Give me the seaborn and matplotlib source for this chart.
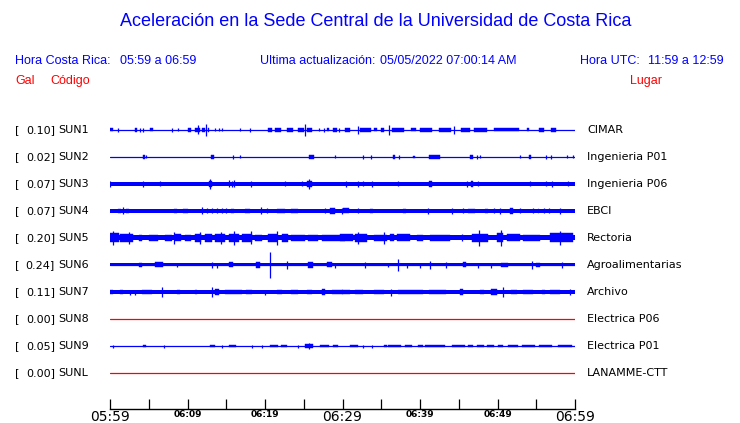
import matplotlib
matplotlib.use("Agg")
import matplotlib.pyplot as plt
import matplotlib.transforms as mtransforms
import seaborn as sns

# ------------------------------------------------------
# Data
# ------------------------------------------------------
STATIONS = ["SUN1", "SUN2", "SUN3", "SUN4", "SUN5", "SUN6", "SUN7", "SUN8", "SUN9", "SUNL"]
PLACES = ["CIMAR", "Ingenieria P01", "Ingenieria P06", "EBCI", "Rectoria",
          "Agroalimentarias", "Archivo", "Electrica P06", "Electrica P01", "LANAMME-CTT"]
PEAK_GAL = [0.10, 0.02, 0.07, 0.07, 0.20, 0.24, 0.11, 0.00, 0.05, 0.00]

# background noise level of each trace (relative amplitude)
NOISE = [0.0, 0.0, 1.9, 1.9, 2.5, 1.5, 1.6, 0.0, 0.0, 0.0]

# bursts: (start minute, end minute, relative amplitude), minute 0 = 05:59
SUN1_BURSTS = [(0.0, 0.4, 1.5), (1.0, 1.0, 2), (3.2, 3.5, 2), (3.9, 3.9, 2), (4.3, 4.3, 2),
               (5.2, 5.6, 1.5), (8.0, 8.0, 2), (8.8, 8.8, 1.5), (10.0, 10.4, 2), (11.0, 11.6, 2.3),
               (11.3, 11.3, 4.5), (11.9, 12.2, 2), (12.4, 12.4, 6), (12.6, 12.8, 2), (13.5, 13.5, 1.5),
               (14.0, 14.0, 1.5), (14.5, 14.5, 1.5), (16.8, 16.8, 1.5), (18.1, 18.1, 2), (20.4, 20.9, 2),
               (21.3, 22.1, 2), (22.9, 23.6, 2), (24.3, 25.0, 2.3), (25.2, 25.2, 6), (25.4, 26.0, 2),
               (27.0, 27.0, 1.5), (27.6, 27.6, 2), (28.0, 28.2, 1.5), (28.8, 29.3, 2), (29.6, 29.6, 2),
               (30.3, 31.0, 1.7), (32.0, 32.0, 4), (32.3, 33.7, 1.7), (34.0, 34.4, 1.5), (35.0, 35.3, 2),
               (36.0, 36.0, 5), (36.4, 37.9, 1.8), (38.9, 39.5, 1.5), (40.0, 41.6, 1.7), (42.4, 44.0, 1.7),
               (44.4, 44.4, 4), (45.3, 46.4, 1.7), (47.0, 48.7, 1.7), (49.5, 52.8, 1.5), (53.8, 54.1, 1.5),
               (55.3, 56.0, 2), (56.9, 57.6, 1.7)]
SUN2_BURSTS = [(4.3, 4.5, 1.8), (4.7, 4.7, 1.5), (13.0, 13.4, 1.8), (15.9, 15.9, 2), (16.8, 16.8, 1.5),
               (25.7, 26.3, 1.8), (29.0, 29.0, 1.5), (32.7, 32.7, 2), (33.7, 33.7, 2), (36.5, 36.8, 1.8),
               (37.3, 37.3, 2), (39.1, 39.3, 1.2), (41.1, 42.6, 1.8), (46.4, 46.9, 1.8), (47.3, 47.3, 2),
               (47.7, 47.7, 1.5), (52.9, 52.9, 1.5), (54.1, 54.3, 1.8), (56.3, 56.3, 2), (56.9, 56.9, 2),
               (59.0, 59.0, 1.5), (59.8, 59.8, 1.5)]
SUN3_BURSTS = [(0.0, 0.0, 3), (4.3, 4.3, 3), (6.5, 6.5, 2.5), (12.8, 13.2, 3), (12.9, 12.9, 5),
               (15.4, 15.4, 3.5), (15.7, 15.7, 3), (16.0, 16.0, 3.5), (18.2, 18.2, 3), (22.6, 22.6, 2.5),
               (24.8, 24.8, 2.5), (25.4, 26.0, 3), (25.7, 25.7, 5), (30.5, 30.5, 3), (32.0, 32.0, 3),
               (32.7, 32.7, 2.5), (33.8, 33.8, 3), (37.2, 37.2, 2.5), (41.2, 41.6, 2.6), (46.1, 46.1, 3),
               (46.6, 46.9, 2.6), (47.5, 47.5, 2.5), (54.2, 54.2, 2.5), (56.3, 56.3, 2.5), (57.0, 57.0, 3),
               (59.1, 59.1, 2.5)]
SUN4_BURSTS = [(1.0, 1.4, 2.4), (1.7, 1.7, 3.5), (2.0, 2.4, 2.4), (8.2, 8.6, 2.4), (9.4, 10.0, 2.4),
               (11.9, 11.9, 3.5), (12.5, 12.5, 2.5), (13.2, 13.2, 2.5), (13.8, 13.8, 2.5), (14.4, 14.4, 2.5),
               (15.0, 15.0, 2.5), (15.6, 16.0, 2.4), (17.4, 18.0, 2.4), (19.5, 19.5, 3.5), (20.3, 20.3, 2.5),
               (21.6, 22.6, 2.3), (23.4, 24.3, 2.2), (27.7, 27.7, 2.5), (28.4, 29.0, 2.6), (29.9, 29.9, 3),
               (30.0, 30.9, 2.5), (32.0, 32.0, 2.5), (33.6, 33.9, 2.4), (37.8, 38.2, 2.4), (41.0, 41.0, 3),
               (44.1, 44.1, 3), (45.6, 45.6, 2.5), (46.2, 47.1, 2.4), (48.4, 48.8, 2.4), (49.6, 49.6, 2.5),
               (50.3, 50.3, 3), (51.6, 52.0, 2.6), (52.9, 52.9, 2.5), (54.6, 54.6, 2.5), (55.2, 55.4, 2.4),
               (56.0, 56.0, 2.5), (56.6, 56.6, 2.5), (58.0, 58.0, 3)]
SUN5_BURSTS = [(0.0, 1.1, 4.5), (0.4, 0.4, 7), (1.3, 3.0, 3.8), (2.5, 2.5, 6), (3.7, 4.1, 3.0),
               (5.0, 6.2, 3.0), (7.1, 8.0, 3.0), (8.2, 8.2, 6), (8.4, 9.2, 3.5), (9.7, 10.5, 3.2),
               (11.0, 11.8, 3.8), (11.6, 11.6, 6), (12.3, 13.1, 3.8), (13.5, 14.8, 3.8), (14.3, 14.3, 6),
               (15.3, 16.6, 3.8), (16.0, 16.0, 7), (17.0, 18.3, 3.8), (18.2, 18.2, 6.5), (18.7, 19.6, 3.0),
               (20.4, 21.5, 4.0), (21.5, 21.5, 7), (22.2, 23.0, 3.8), (23.4, 25.2, 3.0), (25.6, 26.9, 3.2),
               (27.3, 30.3, 3.0), (29.7, 31.4, 3.5), (31.6, 33.1, 3.8), (32.0, 32.0, 6), (34.0, 35.7, 3.2),
               (35.3, 35.3, 6), (36.1, 36.6, 3.5), (37.0, 38.7, 3.5), (39.6, 40.4, 3.0), (41.3, 43.9, 3.0),
               (45.4, 45.4, 3.5), (46.7, 48.8, 4.0), (47.6, 47.6, 8), (49.9, 50.7, 4.5), (50.4, 50.4, 8),
               (51.2, 52.9, 3.5), (53.3, 55.5, 3.0), (56.8, 59.8, 4.5), (58.0, 58.0, 7)]
SUN6_BURSTS = [(3.7, 4.1, 1.8), (5.8, 6.9, 2.5), (8.6, 8.6, 2), (13.1, 13.1, 3), (13.8, 13.8, 2.5),
               (15.3, 15.9, 2.5), (18.9, 19.4, 3.0), (20.7, 20.7, 13), (22.8, 22.8, 3.5), (25.6, 26.2, 2.8),
               (28.0, 28.6, 2.5), (29.0, 29.0, 2.5), (32.9, 32.9, 3), (35.9, 35.9, 2), (37.2, 37.2, 6),
               (38.3, 38.3, 2.5), (40.0, 40.0, 2.5), (41.3, 41.3, 3.5), (43.4, 43.4, 3), (45.6, 45.9, 2.5),
               (47.5, 47.5, 2.5), (49.2, 49.2, 2.5), (50.5, 51.4, 2.2), (54.5, 54.5, 3.5), (55.0, 55.5, 2.0),
               (58.3, 58.3, 3)]
SUN7_BURSTS = [(0.0, 0.4, 1.9), (1.3, 1.7, 2.1), (2.6, 2.6, 2.5), (3.2, 3.2, 2.5), (4.1, 5.4, 2.1),
               (6.7, 6.7, 5), (8.6, 9.0, 2.1), (11.0, 11.2, 2.3), (13.1, 13.1, 5.5), (13.6, 14.0, 2.6),
               (14.8, 17.0, 2.1), (17.6, 18.3, 2.1), (20.0, 20.0, 2.5), (21.5, 22.2, 2.3), (23.4, 24.3, 2.1),
               (25.4, 26.0, 2.1), (27.3, 27.7, 2.8), (28.6, 30.1, 2.1), (29.9, 31.0, 2.3), (31.6, 32.7, 2.1),
               (34.0, 35.3, 2.1), (36.3, 36.3, 3.5), (37.2, 40.4, 2.3), (41.1, 43.4, 2.1), (45.2, 45.6, 2.6),
               (47.7, 48.2, 2.1), (49.2, 49.9, 2.6), (50.7, 50.7, 5.5), (51.8, 52.5, 2.1), (53.3, 54.6, 2.1),
               (55.7, 56.1, 2.3), (56.8, 58.0, 2.3), (59.3, 59.3, 3)]
SUN9_BURSTS = [(0.4, 0.4, 1.5), (4.2, 4.7, 1.4), (7.0, 7.0, 1.5), (12.9, 13.5, 1.4), (14.4, 14.4, 1.5),
               (15.3, 16.3, 1.4), (18.3, 18.3, 1.5), (19.6, 19.6, 1.5), (20.6, 21.7, 1.4), (22.1, 22.8, 1.1),
               (24.3, 24.3, 1.5), (25.2, 26.2, 1.7), (25.7, 25.7, 3), (27.1, 28.2, 1.4), (28.8, 29.4, 1.4),
               (31.0, 32.0, 1.4), (32.7, 32.7, 1.5), (33.8, 33.8, 1.5), (35.3, 35.7, 1.1), (35.9, 37.6, 1.4),
               (38.1, 39.0, 1.4), (39.8, 40.4, 1.4), (40.6, 43.2, 1.4), (44.1, 45.8, 1.4), (46.2, 46.9, 1.4),
               (47.3, 48.2, 1.4), (48.6, 49.5, 1.1), (50.1, 50.7, 1.4), (51.4, 52.7, 1.4), (53.1, 54.8, 1.4),
               (55.3, 57.0, 1.4), (57.8, 59.6, 1.4)]
BURSTS = [SUN1_BURSTS, SUN2_BURSTS, SUN3_BURSTS, SUN4_BURSTS, SUN5_BURSTS,
          SUN6_BURSTS, SUN7_BURSTS, [], SUN9_BURSTS, []]

TICK_MINUTES = [0, 10, 20, 30, 40, 50, 60]
TICK_LABELS = ["05:59", "06:09", "06:19", "06:29", "06:39", "06:49", "06:59"]

# ------------------------------------------------------
# Style
# ------------------------------------------------------
BLUE = "#0000ff"
RED = "#ff0000"
ROW = 27.0  # relative amplitude units per trace spacing
W, H = 740, 423

sns.set_theme(style="white")
plt.rcParams["font.family"] = ["DejaVu Sans"]
plt.rcParams["text.color"] = "black"
plt.rcParams["xtick.color"] = "black"
plt.rcParams["xtick.labelcolor"] = "black"

fig = plt.figure(figsize=(W / 100, H / 100), dpi=100)
fig.patch.set_facecolor("white")
ax = fig.add_axes([110 / W, (H - 409) / H, 465 / W, (409 - 118) / H])
ax.set_facecolor("white")

# ------------------------------------------------------
# Traces
# ------------------------------------------------------
for i, (noise, bursts, gal) in enumerate(zip(NOISE, BURSTS, PEAK_GAL)):
    color = RED if gal == 0 else BLUE
    sns.lineplot(x=[0, 60], y=[i, i], color=color, lw=0.9, ax=ax)
    if noise > 0:
        ax.fill_between([0, 60], i - noise / ROW, i + noise / ROW, color=color, lw=0)
    for t0, t1, amp in bursts:
        a = amp / ROW
        if t1 > t0:
            ax.fill_between([t0, t1], i - a, i + a, color=color, lw=0.3)
        else:
            ax.vlines(t0, i - a, i + a, color=color, lw=0.9)

ax.set_xlim(0, 60)
ax.set_ylim((409 - 130) / ROW, -(130 - 118) / ROW)
ax.set_yticks([])
for side in ["top", "left", "right"]:
    ax.spines[side].set_visible(False)
ax.spines["bottom"].set_color("black")
ax.spines["bottom"].set_linewidth(1.0)

ax.set_xticks(TICK_MINUTES)
ax.set_xticks([5, 15, 25, 35, 45, 55], minor=True)
ax.set_xticklabels(TICK_LABELS)
ax.tick_params(axis="x", which="both", direction="in", length=7, width=0.9,
               color="black", labelcolor="black", pad=1, bottom=True)
for lbl, m in zip(ax.get_xticklabels(), TICK_MINUTES):
    if m in (0, 30, 60):
        lbl.set_fontsize(10)
    else:
        lbl.set_fontsize(6.5)
        lbl.set_fontweight("bold")
ax.set_xlabel("")
ax.set_ylabel("")

# ------------------------------------------------------
# Row labels
# ------------------------------------------------------
row_tr = mtransforms.blended_transform_factory(fig.transFigure, ax.transData)
for i, (code, place, gal) in enumerate(zip(STATIONS, PLACES, PEAK_GAL)):
    ax.text(15 / W, i, "[", transform=row_tr, fontsize=8, va="center", ha="left", color="black")
    ax.text(55 / W, i, f"{gal:.2f}]", transform=row_tr, fontsize=8, va="center", ha="right", color="black")
    ax.text(58 / W, i, code, transform=row_tr, fontsize=8, va="center", ha="left", color="black")
    ax.text(587 / W, i, place, transform=row_tr, fontsize=8, va="center", ha="left", color="black")

# ------------------------------------------------------
# Header
# ------------------------------------------------------
def fig_text(x, y, s, **kw):
    fig.text(x / W, 1 - y / H, s, va="center", family="Liberation Sans", **kw)

fig_text(376, 22, "Aceleración en la Sede Central de la Universidad de Costa Rica",
         ha="center", fontsize=13, color=BLUE)
fig_text(15, 61, "Hora Costa Rica:", fontsize=9, color=BLUE)
fig_text(120, 61, "05:59 a 06:59", fontsize=9, color=BLUE)
fig_text(260, 61, "Ultima actualización:", fontsize=9, color=BLUE)
fig_text(380, 61, "05/05/2022 07:00:14 AM", fontsize=9, color=BLUE)
fig_text(580, 61, "Hora UTC:", fontsize=9, color=BLUE)
fig_text(724, 61, "11:59 a 12:59", fontsize=9, color=BLUE, ha="right")
fig_text(15, 81, "Gal", fontsize=9, color=RED)
fig_text(50, 81, "Código", fontsize=9, color=RED)
fig_text(662, 81, "Lugar", fontsize=9, color=RED, ha="right")

fig.savefig("out.png", dpi=100, facecolor="white")
